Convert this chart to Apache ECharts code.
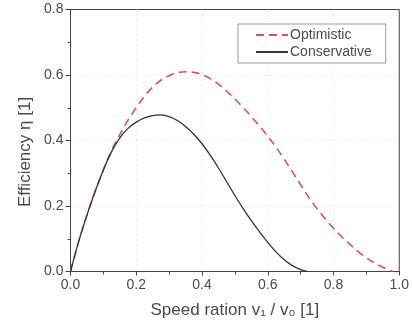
<!DOCTYPE html>
<html>
<head>
<meta charset="utf-8">
<script src="https://cdn.jsdelivr.net/npm/echarts@6/dist/echarts.min.js"></script>
<style>
html,body{margin:0;padding:0;background:#fff;}
#chart{width:412px;height:328px;}
</style>
</head>
<body>
<div id="chart"></div>
<script>
// ---- data ----
var seriesNames = ['Optimistic', 'Conservative'];
var xOptimistic = [0,0.025,0.05,0.075,0.1,0.125,0.15,0.175,0.2,0.225,0.25,0.275,0.3,0.325,0.35,0.375,0.4,0.425,0.45,0.475,0.5,0.525,0.55,0.575,0.6,0.625,0.65,0.675,0.7,0.725,0.75,0.775,0.8,0.825,0.85,0.875,0.9,0.925,0.95,0.98];
var yOptimistic = [0,0.092,0.172,0.245,0.31,0.37,0.418,0.462,0.5,0.535,0.563,0.584,0.598,0.607,0.610,0.608,0.601,0.589,0.572,0.551,0.527,0.501,0.473,0.444,0.413,0.38,0.343,0.304,0.265,0.226,0.192,0.161,0.132,0.106,0.083,0.061,0.042,0.026,0.013,0];
var xConservative = [0,0.025,0.05,0.075,0.1,0.125,0.15,0.175,0.2,0.225,0.25,0.275,0.3,0.325,0.35,0.375,0.4,0.425,0.45,0.475,0.5,0.525,0.55,0.575,0.6,0.625,0.65,0.675,0.7,0.72];
var yConservative = [0,0.092,0.172,0.245,0.31,0.366,0.408,0.437,0.456,0.469,0.476,0.478,0.473,0.461,0.443,0.419,0.39,0.355,0.316,0.274,0.232,0.192,0.155,0.121,0.089,0.06,0.036,0.018,0.006,0];
var xTicks = [0, 0.2, 0.4, 0.6, 0.8, 1.0];
var yTicks = [0, 0.2, 0.4, 0.6, 0.8];
var xTitle = 'Speed ration v\u2081 / v\u2080 [1]';
var yTitle = 'Efficiency \u03b7 [1]';

function pairs(xs, ys) { return xs.map(function (x, i) { return [x, ys[i]]; }); }

var FONT = '"Liberation Sans", Arial, sans-serif';
var textColor = '#4a4a4a';
var axisColor = '#444';

var chart = echarts.init(document.getElementById('chart'), null, {renderer: 'canvas'});
chart.setOption({
  animation: false,
  backgroundColor: '#fff',
  grid: {left: 70.5, right: 10.5, top: 9.5, bottom: 56.5, show: true, borderColor: axisColor, borderWidth: 1, backgroundColor: 'transparent'},
  legend: {
    orient: 'vertical', left: 238, top: 24,
    data: seriesNames,
    itemWidth: 32, itemHeight: 14, itemGap: 3,
    padding: [4, 14, 4, 17],
    borderColor: '#999', borderWidth: 1, borderRadius: 0,
    backgroundColor: '#fff',
    itemStyle: {opacity: 0},
    textStyle: {fontFamily: FONT, fontSize: 14, color: textColor, padding: [0,0,0,-3]}
  },
  xAxis: {
    type: 'value', min: 0, max: 1, interval: 0.2,
    axisLine: {show: true, onZero: false, lineStyle: {color: axisColor, width: 1}},
    axisTick: {show: true, inside: false, length: 4, lineStyle: {color: axisColor}},
    minorTick: {show: true, splitNumber: 2, length: 3, lineStyle: {color: axisColor}},
    splitLine: {show: true, showMinLine: false, showMaxLine: false, lineStyle: {color: '#dedede', type: [1, 4], width: 1}},
    axisLabel: {fontFamily: FONT, fontSize: 14, color: textColor, margin: 7,
      formatter: function (v) { return v.toFixed(1); }},
    name: xTitle, nameLocation: 'middle', nameGap: 30,
    nameTextStyle: {fontFamily: FONT, fontSize: 17, color: textColor}
  },
  yAxis: {
    type: 'value', min: 0, max: 0.8, interval: 0.2,
    axisLine: {show: true, onZero: false, lineStyle: {color: axisColor, width: 1}},
    axisTick: {show: true, inside: false, length: 5, lineStyle: {color: axisColor}},
    minorTick: {show: true, splitNumber: 2, length: 3, lineStyle: {color: axisColor}},
    splitLine: {show: true, showMinLine: false, showMaxLine: false, lineStyle: {color: '#dedede', type: [1, 4], width: 1}},
    axisLabel: {fontFamily: FONT, fontSize: 14, color: textColor, margin: 7,
      formatter: function (v) { return v.toFixed(1); }}
  },
  graphic: [{
    type: 'text', x: 25, y: 152, rotation: Math.PI / 2,
    style: {text: yTitle, font: '17px ' + FONT, fill: textColor, align: 'center', verticalAlign: 'middle'}
  }],
  series: [{
    name: seriesNames[0], type: 'line', symbol: 'none', smooth: 0.35,
    data: pairs(xOptimistic, yOptimistic),
    lineStyle: {color: '#e0505c', width: 1.6, type: [8, 5]},
    itemStyle: {color: '#e0505c'}, z: 2
  }, {
    name: seriesNames[1], type: 'line', symbol: 'none', smooth: 0.35,
    data: pairs(xConservative, yConservative),
    lineStyle: {color: '#333', width: 1.3, type: 'solid'},
    itemStyle: {color: '#333'}, z: 3
  }]
});
</script>
</body>
</html>
